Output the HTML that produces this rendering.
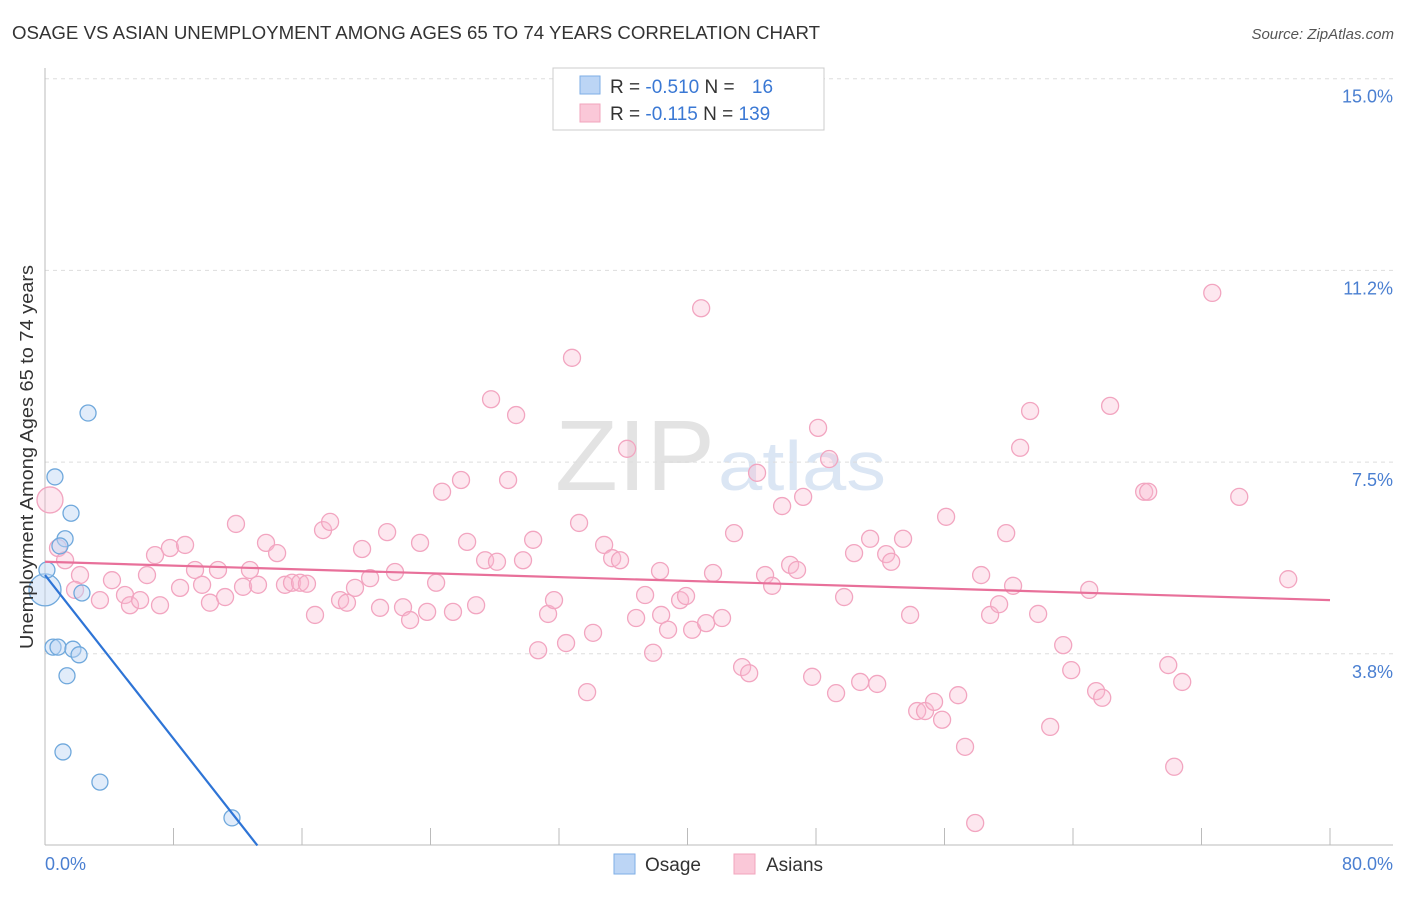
<!DOCTYPE html>
<html><head><meta charset="utf-8"><style>
body{margin:0;background:#fff;font-family:"Liberation Sans",sans-serif;}
svg text{font-family:"Liberation Sans",sans-serif;}
</style></head><body>
<svg id="chart" width="1406" height="892">
<text x="12" y="39" font-size="18" fill="#333" textLength="808" lengthAdjust="spacingAndGlyphs">OSAGE VS ASIAN UNEMPLOYMENT AMONG AGES 65 TO 74 YEARS CORRELATION CHART</text>
<text x="1394" y="39" font-size="15" fill="#555" text-anchor="end" font-style="italic">Source: ZipAtlas.com</text>
<text x="715" y="490" font-size="100" fill="#e3e3e3" text-anchor="end" font-family="Liberation Serif" textLength="160" lengthAdjust="spacingAndGlyphs">ZIP</text>
<text x="718" y="490" font-size="70" fill="#dbe6f4" textLength="168" lengthAdjust="spacingAndGlyphs">atlas</text>
<g id="grid"></g><g id="axes"></g><g id="marks"></g>
<text x="33" y="457" font-size="18" fill="#333" text-anchor="middle" transform="rotate(-90 33 457)" textLength="384" lengthAdjust="spacingAndGlyphs">Unemployment Among Ages 65 to 74 years</text>
<text x="45" y="870" font-size="18" fill="#4a7fd1">0.0%</text>
<text x="1393" y="870" font-size="18" fill="#4a7fd1" text-anchor="end">80.0%</text>
<g>
<rect x="553" y="68" width="271" height="62" fill="#fff" stroke="#ccc"/>
<rect x="580" y="76" width="20" height="18" fill="#bcd5f5" stroke="#7eaee6"/>
<rect x="580" y="104" width="20" height="18" fill="#fac8d8" stroke="#f2a5bd"/>
<text x="610" y="93" font-size="19" fill="#333">R = <tspan fill="#3a78d4">-0.510</tspan>   N =  <tspan fill="#3a78d4" dx="12">16</tspan></text>
<text x="610" y="120" font-size="19" fill="#333">R =  <tspan fill="#3a78d4">-0.115</tspan>   N = <tspan fill="#3a78d4">139</tspan></text>
</g>
<g>
<rect x="614" y="854" width="21" height="20" fill="#bcd5f5" stroke="#7eaee6"/>
<text x="645" y="871" font-size="19" fill="#333">Osage</text>
<rect x="734" y="854" width="21" height="20" fill="#fac8d8" stroke="#f2a5bd"/>
<text x="766" y="871" font-size="19" fill="#333">Asians</text>
</g>
</svg>
<script>
const yTicks=[3.75,7.5,11.25,15];
const yTickLabels=["3.8%","7.5%","11.2%","15.0%"];
const xTicks=[0,8,16,24,32,40,48,56,64,72,80];
const asianX=[0.31,0.81,1.25,2.18,1.87,3.42,4.17,4.98,5.29,5.92,7.16,6.35,6.85,7.78,8.72,8.41,9.34,9.78,10.27,10.77,11.21,11.89,12.33,12.76,13.26,13.76,14.45,14.94,15.38,15.88,16.31,16.81,17.31,17.75,18.37,18.8,19.3,19.74,20.24,20.86,21.3,21.79,22.29,22.73,23.35,23.79,24.35,24.72,25.4,25.9,26.28,26.84,27.4,27.77,28.14,28.83,29.33,29.76,30.39,30.7,31.32,31.69,32.44,32.81,33.25,33.75,34.12,34.81,35.31,35.8,36.24,36.8,37.36,37.86,38.29,38.36,38.79,39.54,39.91,40.29,40.85,41.16,41.59,42.15,42.9,43.4,43.84,44.33,44.83,45.27,45.89,46.39,46.82,47.2,47.76,48.13,48.82,49.25,49.75,50.37,50.75,51.37,51.81,52.37,52.68,53.42,53.86,54.3,54.79,55.35,55.85,56.1,56.85,57.28,57.91,58.28,58.84,59.4,59.84,60.27,60.71,61.33,61.83,62.58,63.39,63.89,65.01,65.44,65.82,66.31,68.43,68.68,69.93,70.3,70.8,72.67,74.35,77.4];
const asianY=[6.76,5.82,5.58,5.29,5.0,4.8,5.19,4.9,4.7,4.8,4.7,5.29,5.68,5.82,5.88,5.04,5.39,5.1,4.75,5.39,4.86,6.29,5.06,5.39,5.1,5.92,5.72,5.1,5.14,5.14,5.12,4.51,6.17,6.33,4.8,4.75,5.04,5.8,5.23,4.65,6.13,5.35,4.66,4.41,5.92,4.57,5.14,6.92,4.57,7.15,5.94,4.7,5.58,8.73,5.55,7.15,8.42,5.58,5.98,3.82,4.53,4.8,3.96,9.54,6.31,3.0,4.16,5.88,5.62,5.58,7.76,4.45,4.9,3.77,5.37,4.51,4.22,4.8,4.88,4.22,10.51,4.35,5.33,4.45,6.11,3.49,3.37,7.29,5.29,5.08,6.64,5.49,5.39,6.82,3.3,8.17,7.56,2.98,4.86,5.72,3.2,6.0,3.16,5.7,5.55,6.0,4.51,2.63,2.63,2.81,2.46,6.43,2.94,1.93,0.44,5.29,4.51,4.72,6.11,5.08,7.78,8.5,4.53,2.32,3.92,3.43,5.0,3.02,2.89,8.6,6.92,6.92,3.53,1.54,3.2,10.81,6.82,5.21];
const osageX=[0,0.12,0.62,2.68,1.62,1.25,0.93,2.3,0.5,0.81,1.74,2.12,1.37,1.12,3.42,11.64];
const osageY=[5.0,5.39,7.21,8.46,6.5,6.0,5.86,4.94,3.88,3.88,3.84,3.73,3.32,1.83,1.24,0.54];
const asianTrend=[5.55,4.80];
const osageTrend=[5.29,-0.40];
const NS='http://www.w3.org/2000/svg';
const X=v=>45+v/80*1285, Y=v=>845.5-v/3.75*191.7;
function mk(t,a,p){const e=document.createElementNS(NS,t);for(const k in a)e.setAttribute(k,a[k]);p.appendChild(e);return e;}
const grid=document.getElementById('grid'),axes=document.getElementById('axes'),marks=document.getElementById('marks'),svg=document.getElementById('chart');
yTicks.forEach((t,i)=>{const l=mk('line',{x1:45,x2:1393,y1:Y(t),y2:Y(t),stroke:'#ddd','stroke-dasharray':'4,4'},grid);


const tx=mk('text',{x:1393,y:Y(t)+24,'font-size':18,fill:'#4a7fd1','text-anchor':'end'},svg);tx.textContent=yTickLabels[i];

});
const ya=mk('line',{x1:45,x2:45,y1:68,y2:845,stroke:'#bbb'},axes);


const xa=mk('line',{x1:45,x2:1393,y1:845,y2:845,stroke:'#bbb'},axes);


xTicks.forEach(t=>{const l=mk('line',{x1:X(t),x2:X(t),y1:828,y2:845,stroke:'#bbb'},axes);

});
asianX.forEach((x,i)=>{const c=mk('circle',{cx:X(x),cy:Y(asianY[i]),r:i==0?13:8.5,fill:'rgba(248,187,208,0.35)',stroke:'#f2a5c0','stroke-width':1.3},marks);

});
osageX.forEach((x,i)=>{const c=mk('circle',{cx:X(x),cy:Y(osageY[i]),r:i==0?16:8,fill:'rgba(188,213,245,0.45)',stroke:'#6fa8dc','stroke-width':1.3},marks);

});
const pl=mk('line',{x1:X(0),y1:Y(asianTrend[0]),x2:X(80),y2:Y(asianTrend[1]),stroke:'#e8709a','stroke-width':2.2},marks);


const xEnd=-osageTrend[0]/osageTrend[1];
const bl=mk('line',{x1:X(0),y1:Y(osageTrend[0]),x2:X(xEnd),y2:Y(0),stroke:'#2e74d6','stroke-width':2.2},marks);


</script>
</body></html>
